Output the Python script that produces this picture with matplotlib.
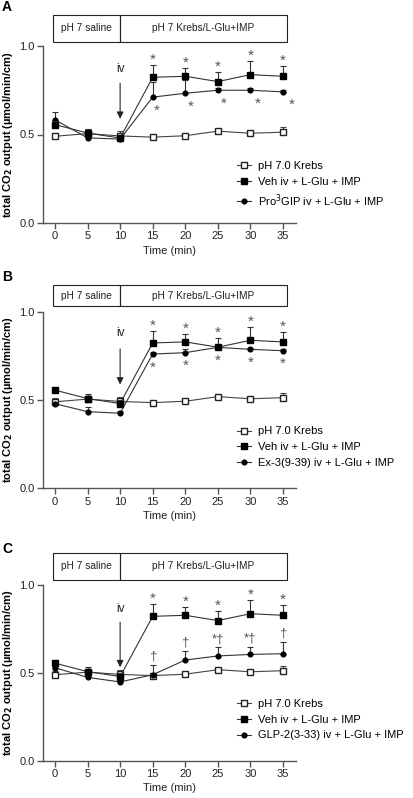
import matplotlib
matplotlib.use("Agg")
import matplotlib.pyplot as plt
from matplotlib.lines import Line2D
import numpy as np

plt.rcParams['font.family'] = ['Liberation Sans', 'DejaVu Sans']

time = [0, 5, 10, 15, 20, 25, 30, 35]
xticks = [0, 5, 10, 15, 20, 25, 30, 35]
yticks = [0.0, 0.5, 1.0]

krebs = [0.490, 0.505, 0.492, 0.485, 0.493, 0.519, 0.507, 0.513]
krebs_err = [0.020, 0.020, 0.025, 0.010, 0.008, 0.008, 0.010, 0.027]
veh = [0.556, 0.508, 0.480, 0.823, 0.829, 0.799, 0.838, 0.829]
veh_err = [0.020, 0.025, 0.020, 0.070, 0.045, 0.053, 0.076, 0.056]

pro3gip = [0.583, 0.481, 0.474, 0.711, 0.733, 0.750, 0.750, 0.741]
pro3gip_err = [0.043, 0.015, 0.010, 0.085, 0.075, 0.010, 0.010, 0.010]
ex3 = [0.479, 0.434, 0.425, 0.760, 0.768, 0.798, 0.787, 0.779]
ex3_err = [0.010, 0.028, 0.010, 0.010, 0.021, 0.010, 0.010, 0.010]
glp2 = [0.530, 0.475, 0.449, 0.490, 0.574, 0.597, 0.606, 0.610]
glp2_err = [0.020, 0.010, 0.010, 0.058, 0.053, 0.049, 0.044, 0.069]

legend_labels = ["pH 7.0 Krebs", "Veh iv + L-Glu + IMP"]
treat_labels = ["Pro$^3$GIP iv + L-Glu + IMP", "Ex-3(9-39) iv + L-Glu + IMP",
                "GLP-2(3-33) iv + L-Glu + IMP"]
panel_letters = ["A", "B", "C"]
box_labels = ["pH 7 saline", "pH 7 Krebs/L-Glu+IMP"]

# significance marks: above Veh, and near treatment
veh_marks = ["*", "*", "*", "*", "*"]
treat_marks_A = ["*", "*", "*", "*", "*"]
treat_marks_B = ["*", "*", "*", "*", "*"]
treat_marks_C = ["\u2020", "\u2020", "*\u2020", "*\u2020", "\u2020"]

W, H = 414, 798
fig = plt.figure(figsize=(W / 100, H / 100), dpi=100)

panels = [
    dict(top=46, bot=223, treat=pro3gip, err=pro3gip_err, marks=treat_marks_A, mode="below", arrow_tip=0.573, ytxt=0.87, ybox=(1.024, 1.175)),
    dict(top=311.7, bot=488.3, treat=ex3, err=ex3_err, marks=treat_marks_B, mode="below", arrow_tip=0.572, ytxt=0.878, ybox=(1.032, 1.151)),
    dict(top=585.3, bot=760.7, treat=glp2, err=glp2_err, marks=treat_marks_C, mode="above", arrow_tip=0.517, ytxt=0.863, ybox=(1.03, 1.186)),
]
letter_y = [7, 277, 549]

ax_left, ax_right = 43, 296

for i, p in enumerate(panels):
    ax = fig.add_axes([ax_left / W, 1 - p["bot"] / H, (ax_right - ax_left) / W, (p["bot"] - p["top"]) / H])
    ax.set_xlim(-1.84, 37.0)
    ax.set_ylim(0, 1.0)
    for s in ["top", "right"]:
        ax.spines[s].set_visible(False)
    for s in ["left", "bottom"]:
        ax.spines[s].set_color("#555555")
        ax.spines[s].set_linewidth(1.0)
    ax.set_xticks(xticks)
    ax.set_yticks(yticks)
    ax.set_yticklabels(["0.0", "0.5", "1.0"])
    ax.tick_params(direction="out", length=4, width=1.0, color="#555555", labelsize=8, labelcolor="#222222", pad=2)
    ax.set_xlabel("Time (min)", fontsize=8, color="#222222", labelpad=3)
    ax.set_ylabel("total CO$_\\mathbf{2}$ output (µmol/min/cm)", fontsize=8, fontweight="bold", labelpad=3)

    # series
    ax.errorbar(time, krebs, yerr=[np.zeros(8), krebs_err], fmt="-s", color="#444444", mfc="white", mec="#222222",
                ms=3.8, lw=0.8, elinewidth=0.8, capsize=2.5, capthick=0.8, zorder=3)
    ax.errorbar(time, p["treat"], yerr=[np.zeros(8), p["err"]], fmt="-o", color="#333333", mfc="black", mec="black",
                ms=3.4, lw=0.8, elinewidth=0.8, capsize=2.5, capthick=0.8, zorder=4)
    ax.errorbar(time, veh, yerr=[np.zeros(8), veh_err], fmt="-s", color="#333333", mfc="black", mec="black",
                ms=3.8, lw=0.8, elinewidth=0.8, capsize=2.5, capthick=0.8, zorder=5)

    # marks above veh
    for t, v, e, m in zip(time[3:], veh[3:], veh_err[3:], veh_marks):
        ax.text(t, v + e + 0.03, m, ha="center", va="center", fontsize=11, color="#555555")
    for j, (t, v, e, m) in enumerate(zip(time[3:], p["treat"][3:], p["err"][3:], p["marks"])):
        if p["mode"] == "below":
            dx = 0.6 if i == 0 else 0.0
            ax.text(t + dx * (1 + j * 0.3), v - 0.075, m, ha="center", va="center", fontsize=11, color="#555555")
        else:
            ax.text(t, v + e + 0.045, m, ha="center", va="center", fontsize=9.5, color="#555555")

    # iv arrow
    ax.text(10, p["ytxt"], "iv", ha="center", va="center", fontsize=8.5, color="#222222")
    ax.annotate("", xy=(10, p["arrow_tip"]), xytext=(10, 0.805),
                arrowprops=dict(arrowstyle="-|>", color="#222222", lw=0.8, mutation_scale=10))

    # condition box
    y0, y1 = p["ybox"]
    ax.add_patch(plt.Rectangle((-0.3, y0), 10.3, y1 - y0, fill=False, ec="#222222", lw=0.8, clip_on=False,
                               transform=ax.transData))
    ax.add_patch(plt.Rectangle((10.0, y0), 25.6, y1 - y0, fill=False, ec="#222222", lw=0.8, clip_on=False,
                               transform=ax.transData))
    ax.text(4.85, (y0 + y1) / 2, box_labels[0], ha="center", va="center", fontsize=7.3, color="#222222")
    ax.text(22.8, (y0 + y1) / 2, box_labels[1], ha="center", va="center", fontsize=7.3, color="#222222")

    # legend
    handles = [
        Line2D([0], [0], color="#444444", lw=0.8, marker="s", mfc="white", mec="#222222", ms=3.8),
        Line2D([0], [0], color="#333333", lw=0.8, marker="s", mfc="black", mec="black", ms=3.8),
        Line2D([0], [0], color="#333333", lw=0.8, marker="o", mfc="black", mec="black", ms=3.4),
    ]
    labels = legend_labels + [treat_labels[i]]
    ax.legend(handles, labels, loc="upper left", bbox_to_anchor=(0.765, 0.35), frameon=False, fontsize=8,
              handlelength=1.3, handletextpad=0.6, labelspacing=0.5, borderaxespad=0, borderpad=0)

    fig.text(2 / W, 1 - letter_y[i] / H, panel_letters[i], fontsize=10, fontweight="bold", va="center", ha="left")

fig.savefig("out.png", dpi=100)
